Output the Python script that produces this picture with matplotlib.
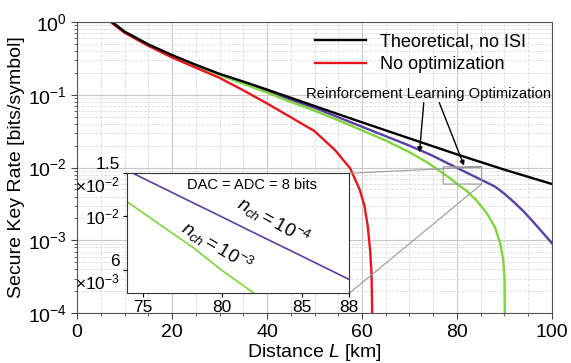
import numpy as np
import matplotlib
matplotlib.use('Agg')
import matplotlib.pyplot as plt
from matplotlib.ticker import FixedLocator, MultipleLocator, LogLocator, NullLocator, NullFormatter

plt.rcParams['font.family'] = ['Liberation Sans', 'DejaVu Sans']
plt.rcParams['mathtext.fontset'] = 'custom'
plt.rcParams['mathtext.rm'] = 'Liberation Sans'
plt.rcParams['mathtext.it'] = 'Liberation Sans:italic'

# distance [km] and log10 of the key rate
black_L = [7.3, 10, 15, 20, 25, 30, 35, 40, 50, 60, 70, 80, 90, 100]
black_log = [0.0, -0.135, -0.31, -0.457, -0.59, -0.715, -0.82, -0.93, -1.156,
             -1.38, -1.60, -1.82, -2.03, -2.226]

red_L = [7.0, 10, 15, 20, 25, 30, 35, 40, 45, 50, 54.3, 57.5, 59.5, 60.5, 61.2,
         61.7, 62.0, 62.2]
red_log = [0.0, -0.15, -0.33, -0.49, -0.63, -0.77, -0.94, -1.12, -1.31, -1.50,
           -1.76, -2.01, -2.30, -2.52, -2.80, -3.13, -3.45, -4.2]

purple_L = [7.3, 10, 15, 20, 25, 30, 35, 40, 45, 50, 55, 60, 65, 70, 74.4, 78, 80,
            82, 85, 88, 90, 91.9, 94, 96.1, 98, 100]
purple_log = [0.0, -0.137, -0.313, -0.46, -0.595, -0.722, -0.835, -0.95, -1.07,
              -1.18, -1.31, -1.44, -1.57, -1.70, -1.824, -1.94, -2.004, -2.069,
              -2.165, -2.262, -2.36, -2.47, -2.60, -2.75, -2.89, -3.04]

green_L = [7.3, 10, 15, 20, 25, 30, 35, 40, 45, 50, 55, 60, 65, 70, 74, 76.1, 78.2,
           79.9, 82.0, 84.1, 86.3, 88.0, 89.1, 89.7, 90.0, 90.1]
green_log = [0.0, -0.138, -0.315, -0.465, -0.60, -0.73, -0.85, -0.97, -1.10, -1.22,
             -1.35, -1.49, -1.63, -1.79, -1.94, -2.036, -2.131, -2.22, -2.318,
             -2.45, -2.63, -2.82, -3.04, -3.25, -3.50, -4.2]

zoom_box = (77.1, 5.93e-3, 85.2, 1.023e-2)
inset_xlim = (74, 88)
inset_ylim = (4.8e-3, 1.5e-2)

C_PURPLE = '#5b3fa5'
C_GREEN = '#80d43c'
C_RED = '#e8161c'


def rate(vals):
    return np.power(10.0, np.array(vals))


def main():
    fig = plt.figure(figsize=(5.71, 3.63), dpi=100)
    ax = fig.add_axes([0.1349, 0.137, 0.8318, 0.803])

    ax.semilogy(purple_L, rate(purple_log), color=C_PURPLE, lw=1.7)
    ax.semilogy(green_L, rate(green_log), color=C_GREEN, lw=1.7)
    ax.semilogy(red_L, rate(red_log), color=C_RED, lw=1.7, label='No optimization')
    ax.semilogy(black_L, rate(black_log), color='black', lw=1.7, label='Theoretical, no ISI')

    ax.set_xlim(0, 100)
    ax.set_ylim(1e-4, 1)
    ax.xaxis.set_major_locator(MultipleLocator(20))
    ax.xaxis.set_minor_locator(MultipleLocator(5))
    ax.yaxis.set_major_locator(LogLocator(base=10, numticks=10))
    ax.yaxis.set_minor_locator(LogLocator(base=10, subs=np.arange(2, 10), numticks=10))
    ax.yaxis.set_minor_formatter(NullFormatter())
    ax.grid(which='major', color='#c8c8c8', lw=0.8, ls='-')
    ax.grid(which='minor', color='#dcdcdc', lw=0.6, ls='--')
    ax.tick_params(labelsize=14, length=4, width=0.8, color='#444444')
    ax.tick_params(which='minor', length=2, color='#444444')
    for s in ax.spines.values():
        s.set_color('#555555')
    ax.set_xlabel('Distance $L$ [km]', fontsize=14, labelpad=1)
    ax.set_ylabel('Secure Key Rate [bits/symbol]', fontsize=14, labelpad=2)

    h, lab = ax.get_legend_handles_labels()
    ax.legend([h[1], h[0]], [lab[1], lab[0]], loc='upper left', bbox_to_anchor=(0.5, 0.96),
              frameon=False, fontsize=13, handlelength=2.86, handletextpad=0.74,
              labelspacing=0.33, borderpad=0, borderaxespad=0)

    ax.text(74.0, 0.101, 'Reinforcement Learning Optimization', fontsize=10.6,
            ha='center', va='center')
    ax.annotate('', xy=(72.06, 0.01483), xytext=(73.05, 0.0843),
                arrowprops=dict(arrowstyle='-|>', color='black', lw=1, mutation_scale=7))
    ax.annotate('', xy=(81.7, 0.00975), xytext=(76.06, 0.0843),
                arrowprops=dict(arrowstyle='-|>', color='black', lw=1, mutation_scale=7))

    axins = fig.add_axes([0.2219, 0.192, 0.3898, 0.3306])
    axins.semilogy(purple_L, rate(purple_log), color=C_PURPLE, lw=1.2)
    axins.semilogy(green_L, rate(green_log), color=C_GREEN, lw=1.2)
    axins.set_xlim(*inset_xlim)
    axins.set_ylim(*inset_ylim)
    axins.xaxis.set_major_locator(FixedLocator([75, 80, 85, 88]))
    axins.xaxis.set_minor_locator(NullLocator())
    axins.yaxis.set_major_locator(FixedLocator([6e-3, 1e-2, 1.5e-2]))
    axins.yaxis.set_minor_locator(NullLocator())
    axins.set_yticklabels(['6\n$\\times10^{-3}$', '$10^{-2}$', '1.5\n$\\times10^{-2}$'])
    axins.tick_params(labelsize=12.5, length=3, width=0.8, pad=2)
    for s in axins.spines.values():
        s.set_color('#333333')
    axins.set_facecolor('white')
    axins.text(0.561, 0.90, 'DAC = ADC = 8 bits', transform=axins.transAxes,
               fontsize=10.5, ha='center', va='center')
    axins.text(0.659, 0.597, '$n_{ch} = 10^{-4}$', transform=axins.transAxes,
               fontsize=13.5, ha='center', va='center', rotation=-29)
    axins.text(0.404, 0.388, '$n_{ch} = 10^{-3}$', transform=axins.transAxes,
               fontsize=13.5, ha='center', va='center', rotation=-31)

    ax.indicate_inset([zoom_box[0], zoom_box[1], zoom_box[2] - zoom_box[0],
                       zoom_box[3] - zoom_box[1]], inset_ax=axins,
                      edgecolor='#999999', alpha=1, linewidth=0.8)

    fig.savefig('out.png', dpi=100)


if __name__ == '__main__':
    main()
